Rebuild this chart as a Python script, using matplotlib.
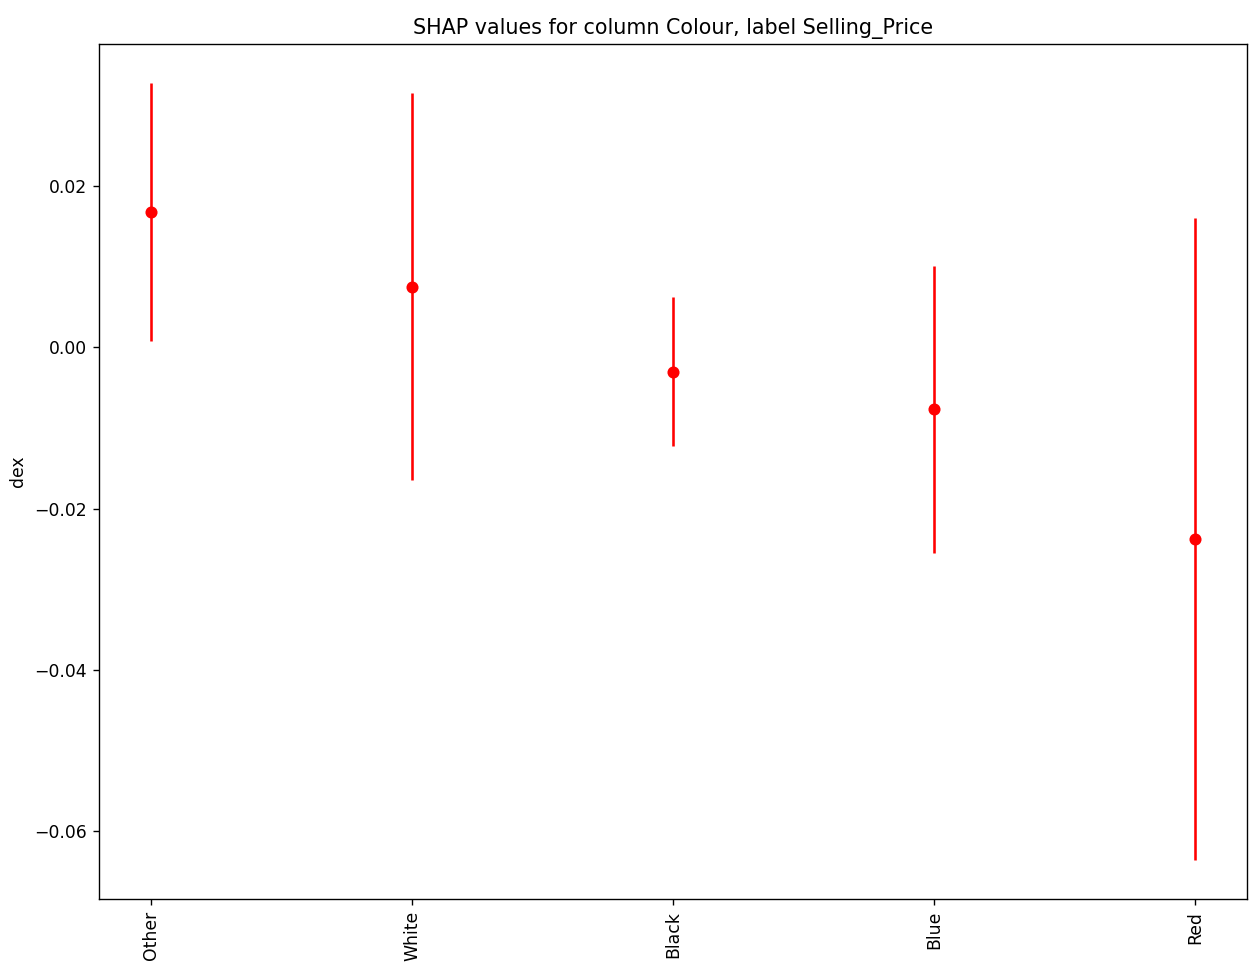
import matplotlib
matplotlib.use("Agg")
import matplotlib.pyplot as plt

CATEGORIES = ["Other", "White", "Black", "Blue", "Red"]
MEANS = [0.0168, 0.0075, -0.0030, -0.0077, -0.0238]
ERRORS = [0.0160, 0.0240, 0.0092, 0.0178, 0.0398]

DPI = 124
fig, ax = plt.subplots(figsize=(1260 / DPI, 971 / DPI), dpi=DPI)
fig.subplots_adjust(left=0.0786, right=0.9897, top=0.9547, bottom=0.0741)

x = range(len(CATEGORIES))
ax.errorbar(x, MEANS, yerr=ERRORS, fmt="o", color="red")
ax.set_xticks(list(x))
ax.set_xticklabels(CATEGORIES, rotation=90)
ax.set_ylabel("dex")
ax.set_title("SHAP values for column Colour, label Selling_Price")

fig.savefig("out.png", dpi=DPI)
